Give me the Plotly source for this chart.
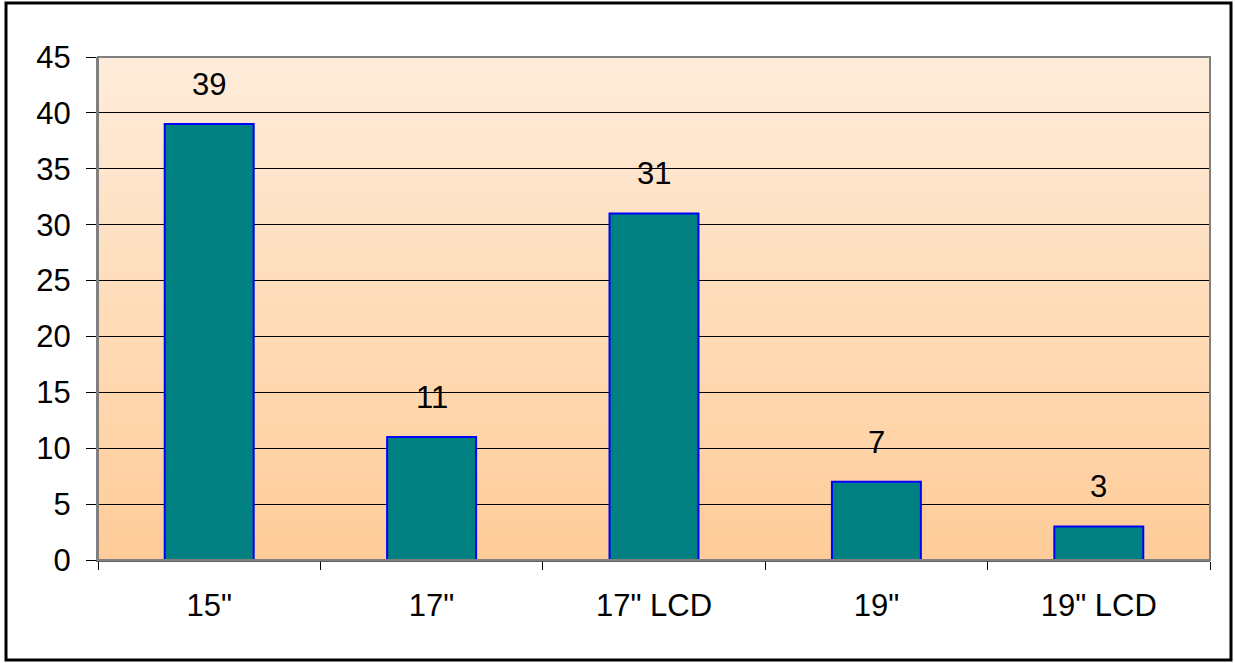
import plotly.graph_objects as go

categories = ['15"', '17"', '17" LCD', '19"', '19" LCD']
values = [39, 11, 31, 7, 3]
y_ticks = [0, 5, 10, 15, 20, 25, 30, 35, 40, 45]

W, H = 1235, 663
L, R, T, B = 98, 25, 57, 103
pw, ph = W - L - R, H - T - B
FONT = "Liberation Sans, Arial"
FS = 31

fig = go.Figure()
fig.add_trace(go.Bar(
    x=categories, y=values, width=0.4,
    marker=dict(color="#008080", line=dict(color="#0000FF", width=2)),
    hoverinfo="skip",
))

for c, v in zip(categories, values):
    fig.add_annotation(x=c, y=v, text=str(v), showarrow=False, yanchor="bottom",
                       yshift=20, font=dict(size=FS, color="black", family=FONT))

# gradient background strips
top = (254, 236, 218)
bot = (255, 204, 153)
n = 80
shapes = []
for i in range(n):
    t = i / (n - 1)
    col = tuple(round(bot[k] + (top[k] - bot[k]) * t) for k in range(3))
    shapes.append(dict(type="rect", xref="x domain", yref="y domain",
                       x0=0, x1=1, y0=i / n, y1=(i + 1) / n + 0.002,
                       fillcolor="rgb(%d,%d,%d)" % col, line=dict(width=0),
                       layer="below"))
# plot frame
shapes.append(dict(type="rect", xref="x domain", yref="y domain", x0=0, x1=1, y0=0, y1=1,
                   line=dict(color="#808080", width=2), fillcolor="rgba(0,0,0,0)"))
# outer border
x0 = (6 - L) / pw
x1 = (1231 - L) / pw
y1 = (H - 3 - B) / ph
y0 = (H - 660 - B) / ph
shapes.append(dict(type="rect", xref="paper", yref="paper", x0=x0, x1=x1, y0=y0, y1=y1,
                   line=dict(color="black", width=3), fillcolor="rgba(0,0,0,0)"))

fig.update_layout(
    width=W, height=H, margin=dict(l=L, r=R, t=T, b=B),
    paper_bgcolor="white", plot_bgcolor="rgba(0,0,0,0)",
    shapes=shapes, showlegend=False, bargap=0.6,
    font=dict(family=FONT, size=FS, color="black"),
)
fig.update_yaxes(range=[0, 45], tickvals=y_ticks, showgrid=True, gridcolor="black",
                 gridwidth=1, ticks="outside", ticklen=10, tickcolor="black",
                 showline=True, linecolor="#808080", linewidth=2,
                 ticklabelstandoff=9, zeroline=False,
                 tickfont=dict(size=FS))
fig.update_xaxes(showline=True, linecolor="#606060", linewidth=2, ticks="outside",
                 tickson="boundaries", ticklen=8, tickcolor="black",
                 ticklabelstandoff=17, tickfont=dict(size=FS), showgrid=False)

fig.write_html("out.html", config={"displayModeBar": False},
               post_script="document.body.style.margin='0';")
